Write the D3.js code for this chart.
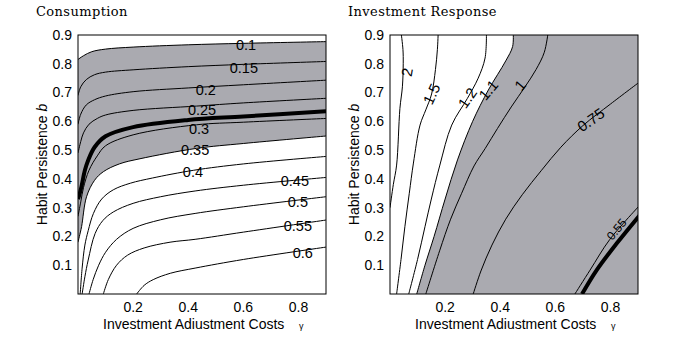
<!DOCTYPE html>
<html>
<head>
<meta charset="utf-8">
<script src="https://cdn.jsdelivr.net/npm/d3@7"></script>
<style>
  body { margin: 0; background: #fff; }
  text { font-family: "Liberation Sans", Arial, sans-serif; }
  .title { font-family: "DejaVu Serif", serif; font-size: 13px; letter-spacing: 0.4px; }
</style>
</head>
<body>
<div id="container"></div>
<script>
/* DATA: contour lines, [gamma, b] */

// consumption panel
const cons010 = [[0,0.815],[0.02,0.828],[0.05,0.842],[0.1,0.851],[0.2,0.858],[0.4,0.866],[0.6,0.871],[0.9,0.877]]
const cons015 = [[0,0.69],[0.01,0.72],[0.03,0.745],[0.06,0.762],[0.1,0.771],[0.2,0.779],[0.4,0.79],[0.6,0.798],[0.9,0.808]]
const cons020 = [[0,0.59],[0.01,0.625],[0.03,0.657],[0.06,0.675],[0.1,0.688],[0.2,0.703],[0.4,0.716],[0.6,0.727],[0.9,0.743]]
const cons025 = [[0,0.49],[0.01,0.53],[0.02,0.56],[0.04,0.59],[0.07,0.61],[0.1,0.622],[0.2,0.638],[0.43,0.653],[0.6,0.664],[0.9,0.68]]
const consThick = [[0,0.33],[0.005,0.345],[0.013,0.375],[0.025,0.43],[0.037,0.465],[0.06,0.51],[0.1,0.548],[0.2,0.58],[0.4,0.605],[0.6,0.617],[0.9,0.635]]
const cons030 = [[0,0.27],[0.01,0.32],[0.02,0.37],[0.04,0.43],[0.07,0.48],[0.1,0.515],[0.2,0.553],[0.43,0.588],[0.6,0.597],[0.9,0.61]]
const cons035 = [[0,0.18],[0.005,0.2],[0.013,0.234],[0.031,0.338],[0.06,0.395],[0.092,0.425],[0.15,0.452],[0.225,0.47],[0.43,0.506],[0.6,0.523],[0.9,0.549]]
const cons040 = [[0.008,0],[0.015,0.09],[0.025,0.17],[0.037,0.22],[0.056,0.28],[0.086,0.33],[0.128,0.362],[0.19,0.385],[0.27,0.403],[0.42,0.43],[0.6,0.452],[0.9,0.478]]
const cons045 = [[0.015,0],[0.025,0.06],[0.037,0.118],[0.062,0.21],[0.09,0.255],[0.128,0.285],[0.2,0.315],[0.3,0.338],[0.425,0.358],[0.6,0.378],[0.9,0.405]]
const cons050 = [[0.04,0],[0.055,0.05],[0.075,0.1],[0.1,0.145],[0.14,0.19],[0.2,0.228],[0.3,0.258],[0.425,0.28],[0.6,0.303],[0.9,0.338]]
const cons055 = [[0.092,0],[0.11,0.05],[0.14,0.1],[0.18,0.135],[0.24,0.16],[0.334,0.18],[0.425,0.19],[0.6,0.215],[0.9,0.257]]
const cons060 = [[0.213,0],[0.24,0.03],[0.273,0.05],[0.335,0.072],[0.425,0.09],[0.6,0.12],[0.9,0.163]]

const consLevels = ["0.1","0.15","0.2","0.25","0.3","0.35","0.4","0.45","0.5","0.55","0.6"]
const consLabelAt = [[0.61,0.865],[0.602,0.785],[0.464,0.709],[0.45,0.639],[0.439,0.573],[0.425,0.5],[0.417,0.424],[0.787,0.393],[0.798,0.32],[0.798,0.236],[0.816,0.142]]

// investment panel
const invs2 = [[0.04,0.91],[0.047,0.85],[0.048,0.8],[0.045,0.72],[0.036,0.645],[0.024,0.448],[0.012,0.38],[0.0,0.3]]
const invs15 = [[0.175,0.91],[0.172,0.85],[0.165,0.78],[0.151,0.695],[0.13,0.64],[0.109,0.587],[0.085,0.455],[0.07,0.35],[0.054,0.234],[0.04,0.12],[0.024,0]]
const invs12 = [[0.35,0.91],[0.345,0.82],[0.32,0.75],[0.281,0.68],[0.224,0.587],[0.181,0.448],[0.15,0.33],[0.127,0.234],[0.1,0.12],[0.068,0]]
const invs11 = [[0.447,0.91],[0.445,0.86],[0.42,0.81],[0.357,0.709],[0.3,0.6],[0.245,0.466],[0.2,0.33],[0.16,0.2],[0.127,0.1],[0.097,0]]
const invs1 = [[0.574,0.91],[0.56,0.84],[0.53,0.78],[0.49,0.72],[0.44,0.65],[0.39,0.575],[0.345,0.505],[0.305,0.445],[0.26,0.35],[0.22,0.26],[0.18,0.15],[0.13,0]]
const invs075 = [[0.302,0],[0.33,0.08],[0.37,0.17],[0.42,0.26],[0.48,0.345],[0.55,0.43],[0.62,0.51],[0.7,0.585],[0.8,0.66],[0.91,0.74]]
const invs055 = [[0.671,0],[0.726,0.083],[0.798,0.19],[0.91,0.312]]
const invsThick = [[0.697,0],[0.75,0.083],[0.823,0.176],[0.91,0.278]]

const invsLevels = ["2","1.5","1.2","1.1","1","0.75","0.55"]
const invsLabelAt = [[0.062,0.771],[0.151,0.695],[0.281,0.681],[0.357,0.709],[0.472,0.726],[0.729,0.605],[0.822,0.225]]
const invsLabelAngle = [-80,-65,-55,-50,-50,-35,-50]

const yTicks = [0.1,0.2,0.3,0.4,0.5,0.6,0.7,0.8,0.9]
const xTicks = [0.2,0.4,0.6,0.8]

/* SCALES */
const width = 691, height = 354
const shade = "#aaaab0"

const y = d3.scaleLinear().domain([0, 0.9]).range([294, 35])
const xL = d3.scaleLinear().domain([0, 0.9]).range([78, 326])
const xR = d3.scaleLinear().domain([0, 0.9]).range([390, 638])

const svg = d3.select("#container")
  .append("svg")
  .attr("width", width)
  .attr("height", height)

function panel(x, id, title, titleX) {
  const g = svg.append("g")
  g.append("clipPath").attr("id", id)
    .append("rect")
    .attr("x", x(0)).attr("y", y(0.9))
    .attr("width", x(0.9) - x(0)).attr("height", y(0) - y(0.9))

  const line = d3.line()
    .x(d => x(d[0]))
    .y(d => y(d[1]))
    .curve(d3.curveCatmullRom.alpha(0.5))

  const plot = g.append("g").attr("clip-path", `url(#${id})`)

  // axis tick labels
  g.selectAll(".yt").data(yTicks).join("text")
    .attr("x", x(0) - 6).attr("y", d => y(d))
    .attr("dy", "0.35em").attr("text-anchor", "end")
    .attr("font-size", 14)
    .text(d => d)
  g.selectAll(".xt").data(xTicks).join("text")
    .attr("x", d => x(d)).attr("y", 312)
    .attr("text-anchor", "middle")
    .attr("font-size", 14)
    .text(d => d)

  // axis titles
  g.append("text")
    .attr("x", x(0.42)).attr("y", 329)
    .attr("text-anchor", "middle")
    .attr("font-size", 14)
    .text("Investment Adiustment Costs")
  g.append("text")
    .attr("x", x(0.81)).attr("y", 329)
    .attr("text-anchor", "middle")
    .attr("font-size", 9).attr("font-family", "DejaVu Serif")
    .text("γ")

  const yt = g.append("text")
    .attr("transform", `translate(${x(0) - 31},${y(0.45)}) rotate(-90)`)
    .attr("text-anchor", "middle")
    .attr("font-size", 14)
  yt.append("tspan").text("Habit Persistence ")
  yt.append("tspan").attr("font-style", "italic").text("b")

  g.append("text").attr("class", "title")
    .attr("x", titleX).attr("y", 16)
    .text(title)

  return { g, plot, line }
}

/* CONSUMPTION */
{
  const { g, plot, line } = panel(xL, "clipL", "Consumption", 36)
  const consLines = [cons010, cons015, cons020, cons025, cons030, cons035, cons040, cons045, cons050, cons055, cons060]

  // shaded band between the 0.1 and 0.35 contours
  const lower = line(cons035.slice().reverse()).replace(/^M/, "L")
  plot.append("path")
    .attr("d", line(cons010) + `L${xL(0.9)},${y(0.549)}` + lower + "Z")
    .attr("fill", shade)

  plot.selectAll(".c").data(consLines).join("path")
    .attr("d", line)
    .attr("fill", "none").attr("stroke", "#000").attr("stroke-width", 1)

  plot.append("path").attr("d", line(consThick))
    .attr("fill", "none").attr("stroke", "#000").attr("stroke-width", 4)

  g.selectAll(".lab").data(consLevels).join("text")
    .attr("x", (d, i) => xL(consLabelAt[i][0]))
    .attr("y", (d, i) => y(consLabelAt[i][1]))
    .attr("dy", "0.35em").attr("text-anchor", "middle")
    .attr("font-size", 14.5)
    .text(d => d)

  g.append("rect")
    .attr("x", xL(0)).attr("y", y(0.9))
    .attr("width", xL(0.9) - xL(0)).attr("height", y(0) - y(0.9))
    .attr("fill", "none").attr("stroke", "#000").attr("stroke-width", 1)
}

/* INVESTMENT */
{
  const { g, plot, line } = panel(xR, "clipR", "Investment Response", 348)
  const invsLines = [invs2, invs15, invs12, invs11, invs1, invs075, invs055]

  plot.append("path")
    .attr("d", line(invs11) + `L${xR(0.95)},${y(0)}L${xR(0.95)},${y(0.95)}Z`)
    .attr("fill", shade)

  plot.selectAll(".c").data(invsLines).join("path")
    .attr("d", line)
    .attr("fill", "none").attr("stroke", "#000").attr("stroke-width", 1)

  plot.append("path").attr("d", line(invsThick))
    .attr("fill", "none").attr("stroke", "#000").attr("stroke-width", 4)

  g.selectAll(".lab").data(invsLevels).join("text")
    .attr("transform", (d, i) => `translate(${xR(invsLabelAt[i][0])},${y(invsLabelAt[i][1])}) rotate(${invsLabelAngle[i]})`)
    .attr("dy", "0.35em").attr("text-anchor", "middle")
    .attr("font-size", (d, i) => i == 6 ? 12 : 15)
    .text(d => d)

  g.append("rect")
    .attr("x", xR(0)).attr("y", y(0.9))
    .attr("width", xR(0.9) - xR(0)).attr("height", y(0) - y(0.9))
    .attr("fill", "none").attr("stroke", "#000").attr("stroke-width", 1)
}
</script>
</body>
</html>
